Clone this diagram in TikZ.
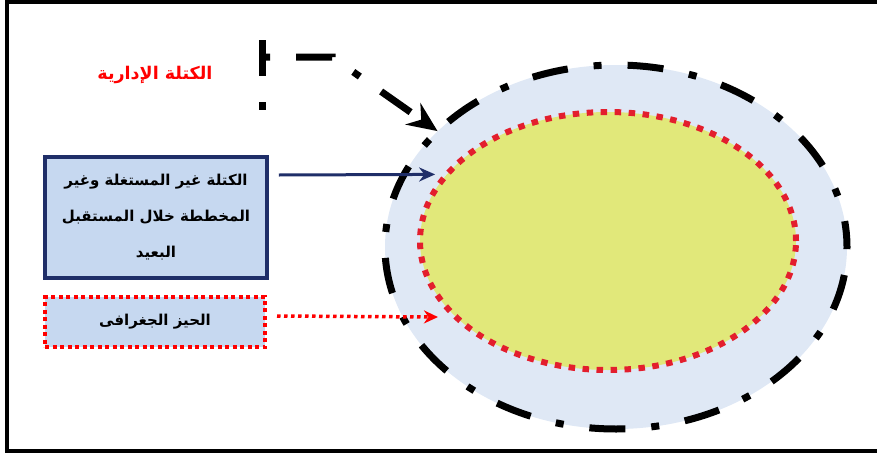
\documentclass[tikz,border=0pt]{standalone}
\usepackage{fontspec}
\usepackage{tikz}
\usetikzlibrary{shapes.geometric,arrows.meta}
\TeXXeTstate=1
\newfontfamily\arabicfont[Script=Arabic]{DejaVu Sans}
\definecolor{navy}{RGB}{31,46,104}
\definecolor{boxfill}{RGB}{198,216,240}
\definecolor{outerfill}{RGB}{223,232,245}
\definecolor{innerfill}{RGB}{225,232,122}
\definecolor{dotred}{RGB}{227,30,45}

\begin{document}
\begin{tikzpicture}[x=1pt,y=-1pt]
      \tikzstyle{zone} = [ellipse, inner sep=0pt]
      \tikzstyle{box} = [rectangle, inner sep=0pt, fill=boxfill, align=center,
        font=\arabicfont\bfseries\fontsize{15}{36}\selectfont]
      \tikzstyle{dashdot} = [line width=7pt, dash pattern=on 36pt off 26pt on 8pt off 26pt]
      \useasboundingbox (0,0) rectangle (877,455);
      % frame
      \draw [line width=4pt] (880,2)--(7,2)--(7,451)--(880,451);
      % zones
      \node (outer) [zone, fill=outerfill, minimum width=462pt, minimum height=364pt] at (616,247) {};
      \draw [dashdot, dash phase=10pt] (outer.center) ellipse [x radius=231pt, y radius=182pt];
      \node (inner) [zone, fill=innerfill, minimum width=376pt, minimum height=258pt,
        draw=dotred, line width=6pt, dash pattern=on 6.5pt off 7.5pt] at (608,241) {};
      % labels
      \node (admin) [text=red, font=\arabicfont\bfseries\fontsize{17.5}{20}\selectfont] at (155,75) {\beginR الكتلة الإدارية\endR};
      \node (unused) [box, draw=navy, line width=3.5pt, minimum width=222pt, minimum height=121pt] at (156,217.5)
        {\beginR الكتلة غير المستغلة وغير\endR\\\beginR المخططة خلال المستقبل\endR\\\beginR البعيد\endR};
      \node (geo) [box, draw=red, line width=4pt, dash pattern=on 4pt off 3.5pt,
        minimum width=220pt, minimum height=50pt] at (155,322) {\beginR الحيز الجغرافى\endR};
      % connectors
      \coordinate (c0) at (262,40);
      \coordinate (c1) at (262,117);
      \coordinate (c2) at (262,57);
      \coordinate (c3) at (332,57);
      \draw [dashdot] (c0)--(c1);
      \draw [dashdot, dash phase=62pt, -{Stealth[length=30pt,width=26pt,inset=10pt]}] (c2)--(c3)--(outer.147);
      \draw [navy, line width=3pt, -{Stealth[length=16pt,width=14pt]}, shorten >=8pt]
        ([xshift=10pt,yshift=42.5pt]unused.east)--(inner.158);
      \draw [red, line width=3.5pt, dash pattern=on 3.5pt off 3.5pt, -{Stealth[length=14pt,width=13pt]}, shorten >=14pt]
        ([xshift=10pt,yshift=6pt]geo.east)--(inner.206);
\end{tikzpicture}
\end{document}
